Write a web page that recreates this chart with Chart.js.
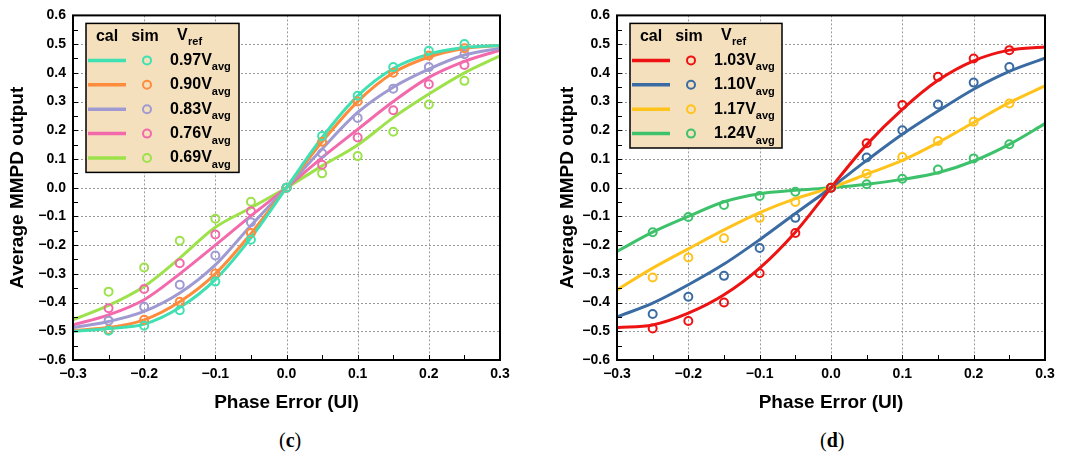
<!DOCTYPE html>
<html>
<head>
<meta charset="utf-8">
<script src="https://cdn.jsdelivr.net/npm/chart.js@4"></script>
<style>
  body { margin: 0; background: #fff; width: 1069px; height: 461px; position: relative; overflow: hidden; }
  .panel { position: absolute; top: 0; width: 534px; height: 420px; }
  .cap { position: absolute; top: 429px; font-family: "Liberation Serif", serif; font-size: 20px; }
  .cap b { font-weight: bold; }
</style>
</head>
<body>
<div class="panel" style="left:0"><canvas id="chartC"></canvas></div>
<div class="panel" style="left:534px"><canvas id="chartD"></canvas></div>
<div class="cap" style="left:279px">(<b>c</b>)</div>
<div class="cap" style="left:820px">(<b>d</b>)</div>
<script>
// phase error positions (UI)
const calX = [-0.3, -0.25, -0.2, -0.15, -0.1, -0.05, 0, 0.05, 0.1, 0.15, 0.2, 0.25, 0.3];
const simX = [-0.25, -0.2, -0.15, -0.1, -0.05, 0, 0.05, 0.1, 0.15, 0.2, 0.25];
const xTicks = [-0.3, -0.2, -0.1, 0, 0.1, 0.2, 0.3];
const yTicks = [-0.6, -0.5, -0.4, -0.3, -0.2, -0.1, 0, 0.1, 0.2, 0.3, 0.4, 0.5, 0.6];

// panel (c) : Vref below Vavg
const labelsC = ['0.97', '0.90', '0.83', '0.76', '0.69'];
const colorsC = ['#3fe0b2', '#ff8b3d', '#9f9bd2', '#f26aab', '#9de24b'];
const cal097 = [-0.500, -0.490, -0.475, -0.417, -0.320, -0.175, 0, 0.175, 0.320, 0.415, 0.465, 0.488, 0.495];
const cal090 = [-0.497, -0.487, -0.460, -0.397, -0.300, -0.160, 0, 0.160, 0.300, 0.400, 0.455, 0.485, 0.495];
const cal083 = [-0.487, -0.466, -0.431, -0.367, -0.269, -0.132, 0, 0.135, 0.262, 0.350, 0.413, 0.462, 0.486];
const cal076 = [-0.478, -0.443, -0.390, -0.300, -0.200, -0.098, 0, 0.105, 0.203, 0.300, 0.384, 0.440, 0.479];
const cal069 = [-0.460, -0.410, -0.344, -0.245, -0.138, -0.070, 0, 0.076, 0.149, 0.244, 0.326, 0.400, 0.459];
const sim097 = [-0.498, -0.481, -0.427, -0.327, -0.181, 0, 0.180, 0.320, 0.420, 0.477, 0.500];
const sim090 = [-0.495, -0.460, -0.397, -0.299, -0.158, 0, 0.160, 0.300, 0.400, 0.460, 0.486];
const sim083 = [-0.463, -0.415, -0.338, -0.236, -0.120, 0, 0.120, 0.243, 0.345, 0.420, 0.465];
const sim076 = [-0.420, -0.353, -0.263, -0.163, -0.082, 0, 0.080, 0.175, 0.270, 0.360, 0.427];
const sim069 = [-0.362, -0.278, -0.185, -0.108, -0.049, 0, 0.050, 0.110, 0.195, 0.290, 0.372];

// panel (d) : Vref above Vavg
const labelsD = ['1.03', '1.10', '1.17', '1.24'];
const colorsD = ['#ee1313', '#3a6ca3', '#ffc31c', '#3dc26b'];
const cal103 = [-0.487, -0.478, -0.437, -0.373, -0.280, -0.155, 0, 0.150, 0.273, 0.374, 0.442, 0.479, 0.490];
const cal110 = [-0.450, -0.402, -0.338, -0.266, -0.181, -0.090, 0, 0.095, 0.186, 0.267, 0.343, 0.405, 0.451];
const cal117 = [-0.356, -0.280, -0.213, -0.147, -0.087, -0.038, 0, 0.047, 0.095, 0.157, 0.227, 0.296, 0.355];
const cal124 = [-0.222, -0.155, -0.100, -0.049, -0.021, -0.009, 0, 0.012, 0.029, 0.052, 0.093, 0.151, 0.223];
const sim103 = [-0.490, -0.464, -0.400, -0.298, -0.158, 0, 0.155, 0.288, 0.386, 0.450, 0.479];
const sim110 = [-0.440, -0.380, -0.307, -0.210, -0.105, 0, 0.105, 0.200, 0.290, 0.366, 0.420];
const sim117 = [-0.313, -0.243, -0.176, -0.105, -0.050, 0, 0.049, 0.107, 0.163, 0.230, 0.293];
const sim124 = [-0.155, -0.102, -0.060, -0.029, -0.014, 0, 0.012, 0.031, 0.063, 0.102, 0.151];

const FONT = '"Liberation Sans", Arial, sans-serif';
const fmt = (v) => v.toFixed(1).replace('-', '\u2212');
const pts = (xs, ys) => xs.map((x, i) => ({ x: x, y: ys[i] }));

// dotted grid under the data
const dottedGrid = {
  id: 'dottedGrid',
  beforeDatasetsDraw(chart) {
    const { ctx, chartArea: a, scales: { x, y } } = chart;
    ctx.save();
    ctx.strokeStyle = '#9a9a9a';
    ctx.lineWidth = 1;
    ctx.setLineDash([2, 2]);
    ctx.beginPath();
    xTicks.forEach(v => {
      const px = Math.round(x.getPixelForValue(v)) + 0.5;
      ctx.moveTo(px, a.top); ctx.lineTo(px, a.bottom);
    });
    yTicks.forEach(v => {
      const py = Math.round(y.getPixelForValue(v)) + 0.5;
      ctx.moveTo(a.left, py); ctx.lineTo(a.right, py);
    });
    ctx.stroke();
    ctx.restore();
  }
};

// frame + inward ticks
const framePlugin = {
  id: 'frame',
  afterDraw(chart) {
    const { ctx, chartArea: a, scales: { x, y } } = chart;
    ctx.save();
    ctx.strokeStyle = '#000';
    ctx.lineWidth = 1;
    ctx.beginPath();
    for (let v = -0.3; v <= 0.3001; v += 0.05) {
      const px = Math.round(x.getPixelForValue(v)) + 0.5;
      ctx.moveTo(px, a.bottom); ctx.lineTo(px, a.bottom - 5);
    }
    for (let v = -0.6; v <= 0.6001; v += 0.05) {
      const py = Math.round(y.getPixelForValue(v)) + 0.5;
      ctx.moveTo(a.left, py); ctx.lineTo(a.left + 5, py);
    }
    ctx.stroke();
    ctx.lineWidth = 2;
    ctx.strokeRect(a.left, a.top, a.right - a.left, a.bottom - a.top);
    ctx.restore();
  }
};

// legend box with cal / sim / Vref columns
const boxLegend = {
  id: 'boxLegend',
  afterDraw(chart, args, opts) {
    const { ctx, chartArea: a } = chart;
    const L = a.left + opts.dx, T = a.top + 8;
    const W = opts.w, rows = opts.labels.length;
    const H = 27 + rows * 24.4;
    ctx.save();
    ctx.fillStyle = '#f4e0bd';
    ctx.fillRect(L, T, W, H);
    ctx.strokeStyle = '#000';
    ctx.lineWidth = 1.5;
    ctx.strokeRect(L, T, W, H);
    ctx.fillStyle = '#000';
    ctx.textBaseline = 'middle';
    ctx.font = 'bold 16px ' + FONT;
    ctx.textAlign = 'center';
    ctx.fillText('cal', L + 21, T + 13);
    ctx.fillText('sim', L + 59, T + 13);
    ctx.textAlign = 'left';
    ctx.fillText('V', L + 91, T + 12);
    ctx.font = 'bold 11px ' + FONT;
    ctx.fillText('ref', L + 102, T + 19);
    opts.labels.forEach((lab, i) => {
      const cy = T + 37 + i * 24.4;
      ctx.strokeStyle = opts.colors[i];
      ctx.lineWidth = 3.5;
      ctx.beginPath();
      ctx.moveTo(L + 2, cy); ctx.lineTo(L + 40, cy);
      ctx.stroke();
      ctx.lineWidth = 2;
      ctx.beginPath();
      ctx.arc(L + 61, cy, 4, 0, Math.PI * 2);
      ctx.stroke();
      ctx.fillStyle = '#000';
      ctx.font = 'bold 16px ' + FONT;
      ctx.fillText(lab + 'V', L + 84, cy);
      const w = ctx.measureText(lab + 'V').width;
      ctx.font = 'bold 11px ' + FONT;
      ctx.fillText('avg', L + 84 + w, cy + 7);
    });
    ctx.restore();
  }
};

const makePanel = (id, labels, colors, cals, sims, yAxisWidth, padRight, legendW, titlePad) => {
  const datasets = [];
  cals.forEach((c, i) => datasets.push({
    data: pts(calX, c), borderColor: colors[i], borderWidth: 3,
    pointRadius: 0, cubicInterpolationMode: 'monotone', fill: false, order: 2
  }));
  sims.forEach((s, i) => datasets.push({
    data: pts(simX, s), borderColor: colors[i], backgroundColor: 'rgba(0,0,0,0)',
    showLine: false, pointRadius: 4, pointBorderWidth: 2, order: 1
  }));
  new Chart(document.getElementById(id), {
    type: 'line',
    data: { datasets: datasets },
    plugins: [dottedGrid, framePlugin, boxLegend],
    options: {
      responsive: false,
      animation: false,
      devicePixelRatio: 1,
      layout: { padding: { top: 15, right: padRight, left: 0, bottom: 2 } },
      plugins: {
        legend: { display: false },
        tooltip: { enabled: false },
        boxLegend: { labels: labels, colors: colors, dx: 13, w: legendW }
      },
      scales: {
        x: {
          type: 'linear', min: -0.3, max: 0.3,
          afterBuildTicks: (s) => { s.ticks = xTicks.map(v => ({ value: v })); },
          afterFit: (s) => { s.height = 58; },
          grid: { display: false, drawTicks: false },
          border: { display: false },
          ticks: { color: '#000', font: { family: FONT, size: 14, weight: 'bold' }, padding: 6, maxRotation: 0, callback: fmt },
          title: { display: true, text: 'Phase Error (UI)', color: '#000', font: { family: FONT, size: 19, weight: 'bold' }, padding: { top: 6 } }
        },
        y: {
          type: 'linear', min: -0.6, max: 0.6,
          afterBuildTicks: (s) => { s.ticks = yTicks.map(v => ({ value: v })); },
          afterFit: (s) => { s.width = yAxisWidth; },
          grid: { display: false, drawTicks: false },
          border: { display: false },
          ticks: { color: '#000', font: { family: FONT, size: 14, weight: 'bold' }, padding: 7, callback: fmt },
          title: { display: true, text: 'Average MMPD output', color: '#000', font: { family: FONT, size: 19, weight: 'bold' }, padding: { top: titlePad, bottom: 0 } }
        }
      }
    }
  });
};

document.getElementById('chartC').width = 534;
document.getElementById('chartC').height = 420;
document.getElementById('chartD').width = 534;
document.getElementById('chartD').height = 420;

makePanel('chartC', labelsC, colorsC, [cal097, cal090, cal083, cal076, cal069],
  [sim097, sim090, sim083, sim076, sim069], 73, 34, 153, 6);
makePanel('chartD', labelsD, colorsD, [cal103, cal110, cal117, cal124],
  [sim103, sim110, sim117, sim124], 83, 23, 152, 22);
</script>
</body>
</html>
